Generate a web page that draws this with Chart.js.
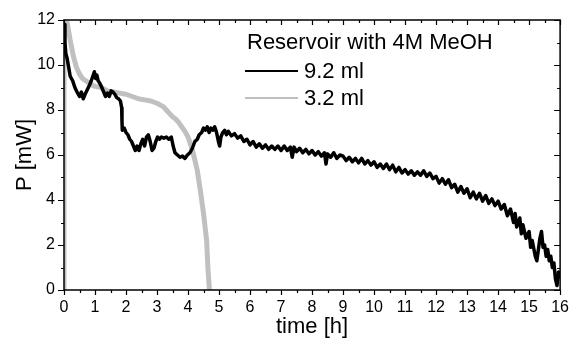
<!DOCTYPE html>
<html><head><meta charset="utf-8">
<script src="https://cdn.jsdelivr.net/npm/chart.js@4"></script>
<style>html,body{margin:0;padding:0;background:#fff}#c{display:block}</style>
</head><body>
<canvas id="c" width="572" height="339"></canvas>
<script>
const legendTitle = "Reservoir with 4M MeOH";
const seriesLabels = ["9.2 ml", "3.2 ml"];
const xTickValues = [0,1,2,3,4,5,6,7,8,9,10,11,12,13,14,15,16];
const yTickValues = [0,2,4,6,8,10,12];
const xTitle = "time [h]";
const yTitle = "P [mW]";

// 9.2 ml series
const timeA = [0.00,0.03,0.06,0.10,0.15,0.20,0.28,0.35,0.42,0.50,0.56,0.62,0.68,0.75,0.82,0.88,0.93,0.98,1.02,1.06,1.10,1.15,1.22,1.28,1.34,1.40,1.46,1.52,1.58,1.64,1.70,1.76,1.82,1.86,1.87,1.88,1.94,2.00,2.06,2.12,2.18,2.24,2.30,2.36,2.42,2.48,2.54,2.60,2.66,2.72,2.78,2.84,2.90,2.96,3.02,3.08,3.14,3.22,3.30,3.38,3.46,3.52,3.58,3.66,3.74,3.82,3.90,3.98,4.06,4.14,4.22,4.30,4.36,4.44,4.50,4.56,4.62,4.68,4.74,4.80,4.86,4.92,4.98,5.02,5.06,5.12,5.18,5.24,
  5.3,5.4,5.5,5.6,5.7,5.8,5.9,6.0,6.1,6.2,6.3,6.4,6.5,6.6,6.7,6.8,6.9,7.0,7.1,7.2,7.3,7.36,7.42,7.5,7.6,7.7,7.8,7.9,8.0,8.1,8.2,8.3,8.4,8.45,8.5,8.6,8.7,8.8,8.9,
  9.0,9.1,9.2,9.3,9.4,9.5,9.6,9.7,9.8,9.9,10.0,10.1,10.2,10.3,10.4,10.5,10.6,10.7,10.8,10.9,11.0,11.1,11.2,11.3,11.4,11.5,11.6,11.7,11.8,11.9,12.0,12.1,12.2,12.3,12.4,12.5,12.6,12.7,12.8,12.9,13.0,13.1,13.2,13.3,13.4,13.5,13.6,13.7,13.8,13.9,14.0,14.1,14.2,14.3,14.4,14.5,14.55,14.6,14.7,14.75,14.8,14.9,15.0,15.05,15.1,15.2,15.25,15.3,15.35,15.4,15.45,15.5,15.55,15.6,15.65,15.7,15.75,15.8,15.85,15.9,15.95,16.0];
const powerA = [11.8,11.0,10.5,10.3,9.9,9.5,9.3,9.0,8.8,8.6,8.8,8.5,8.7,8.9,9.1,9.3,9.5,9.7,9.4,9.55,9.3,9.2,9.0,8.8,8.6,8.75,8.6,8.85,8.8,8.7,8.55,8.5,8.4,8.1,7.5,7.1,7.2,7.0,6.9,6.7,6.6,6.4,6.2,6.4,6.2,6.5,6.7,6.4,6.8,6.9,6.6,6.2,6.3,6.6,6.8,6.7,6.8,6.75,6.8,6.7,6.8,6.4,6.1,6.0,5.9,5.95,5.85,6.0,6.1,6.3,6.6,6.7,6.9,7.0,7.2,7.1,7.25,7.0,7.2,7.1,7.25,7.0,6.6,6.4,6.8,7.0,7.1,6.9,
  7.05,6.85,6.95,6.75,6.85,6.6,6.7,6.45,6.6,6.35,6.5,6.3,6.45,6.25,6.4,6.25,6.4,6.2,6.4,6.2,6.35,5.9,6.35,6.15,6.3,6.1,6.25,6.05,6.2,6.0,6.15,5.95,6.1,5.6,6.05,5.9,6.1,5.85,6.0,
  5.95,5.75,5.9,5.7,5.85,5.65,5.85,5.6,5.75,5.55,5.7,5.45,5.6,5.4,5.6,5.35,5.55,5.25,5.45,5.2,5.35,5.15,5.3,5.1,5.25,5.1,5.3,5.05,5.2,4.95,5.05,4.75,4.95,4.7,4.9,4.55,4.7,4.35,4.6,4.3,4.5,4.1,4.35,4.05,4.3,3.95,4.2,3.85,4.05,3.75,3.95,3.6,3.8,3.3,3.6,3.0,3.4,2.8,3.2,2.5,2.9,2.3,2.6,1.9,2.2,1.5,1.3,1.8,2.3,2.6,1.9,2.0,1.5,1.8,1.3,1.5,1.0,1.2,0.5,0.2,0.8,0.5];

// 3.2 ml series
const timeB = [0,0,0.1,0.2,0.3,0.4,0.5,0.6,0.7,0.85,1.0,1.2,1.4,1.6,1.8,2.0,2.2,2.4,2.6,2.8,3.0,3.2,3.3,3.4,3.5,3.6,3.7,3.8,3.9,4.0,4.1,4.2,4.3,4.4,4.5,4.55,4.6,4.64,4.67,4.69];
const powerB = [0,12,11.9,11.1,10.4,9.9,9.6,9.4,9.3,9.15,9.05,9.0,8.85,8.8,8.75,8.7,8.6,8.5,8.45,8.4,8.3,8.15,8.0,7.85,7.7,7.6,7.45,7.25,7.05,6.8,6.4,5.9,5.3,4.4,3.4,2.8,2.2,1.0,0.4,0];

const FONT = "'Liberation Sans', Arial, sans-serif";
const BLACK = "#000000";
const GRAY = "#c0c0c0";

const toPts = (xs, ys) => xs.map((x, i) => ({x: x, y: ys[i]}));

const framePlugin = {
  id: 'frame',
  afterDatasetsDraw(chart) {
    const {ctx, chartArea: a, scales: {x, y}} = chart;
    ctx.save();
    ctx.strokeStyle = '#000';
    ctx.lineWidth = 1.5;
    ctx.strokeRect(a.left, a.top, a.right - a.left, a.bottom - a.top);
    ctx.lineWidth = 1.2;
    ctx.beginPath();
    for (let v = x.min; v <= x.max + 1e-9; v += 0.5) {
      const px = Math.round(x.getPixelForValue(v)) + 0.5;
      const major = Math.abs(v - Math.round(v)) < 1e-9;
      const L = major ? 5 : 3;
      ctx.moveTo(px, a.bottom); ctx.lineTo(px, a.bottom + L);
      ctx.moveTo(px, a.top); ctx.lineTo(px, a.top + L);
    }
    for (let v = y.min; v <= y.max + 1e-9; v += 1) {
      const py = Math.round(y.getPixelForValue(v)) + 0.5;
      const major = v % 2 === 0;
      const L = major ? 6 : 3;
      ctx.moveTo(a.left - L, py); ctx.lineTo(a.left, py);
      ctx.moveTo(a.right - L, py); ctx.lineTo(a.right, py);
    }
    ctx.stroke();
    ctx.restore();
  },
  afterDraw(chart) {
    const {ctx} = chart;
    ctx.save();
    ctx.fillStyle = '#000';
    ctx.textBaseline = 'middle';
    ctx.textAlign = 'left';
    ctx.font = "22px " + FONT;
    ctx.fillText(legendTitle, 247, 43);
    const rows = [71, 98];
    chart.data.datasets.forEach((ds, i) => {
      ctx.strokeStyle = ds.borderColor;
      ctx.lineWidth = 2;
      ctx.beginPath();
      ctx.moveTo(245, rows[i]); ctx.lineTo(298, rows[i]);
      ctx.stroke();
      ctx.fillStyle = '#000';
      ctx.fillText(ds.label, 304, rows[i] + 1);
    });
    ctx.restore();
  }
};

new Chart(document.getElementById('c'), {
  type: 'line',
  data: {
    datasets: [
      {label: seriesLabels[0], data: toPts(timeA, powerA), borderColor: BLACK, borderWidth: 3.5, pointRadius: 0, tension: 0, borderJoinStyle: 'round'},
      {label: seriesLabels[1], data: toPts(timeB, powerB), borderColor: GRAY, borderWidth: 5, pointRadius: 0, tension: 0, borderJoinStyle: 'round'}
    ]
  },
  options: {
    responsive: false,
    animation: false,
    devicePixelRatio: 1,
    layout: {padding: {top: 20, right: 10, left: 0, bottom: 0}},
    plugins: {legend: {display: false}, tooltip: {enabled: false}},
    scales: {
      x: {
        type: 'linear', min: 0, max: 16,
        afterBuildTicks: s => { s.ticks = xTickValues.map(v => ({value: v})); },
        ticks: {color: '#000', font: {family: FONT, size: 16}, padding: 3, maxRotation: 0, autoSkip: false},
        grid: {display: false, drawTicks: true, tickLength: 5},
        border: {display: false},
        title: {display: true, text: xTitle, color: '#000', font: {family: FONT, size: 22, lineHeight: 1}, padding: {top: 0, bottom: 1}},
        afterFit: s => { s.height = 49; }
      },
      y: {
        type: 'linear', min: 0, max: 12,
        afterBuildTicks: s => { s.ticks = yTickValues.map(v => ({value: v})); },
        ticks: {color: '#000', font: {family: FONT, size: 16}, padding: 3, autoSkip: false},
        grid: {display: false, drawTicks: true, tickLength: 6},
        border: {display: false},
        title: {display: true, text: yTitle, color: '#000', font: {family: FONT, size: 22, lineHeight: 1}, padding: {top: 14, bottom: 0}},
        afterFit: s => { s.width = 64; }
      }
    }
  },
  plugins: [framePlugin]
});
</script>
</body></html>
